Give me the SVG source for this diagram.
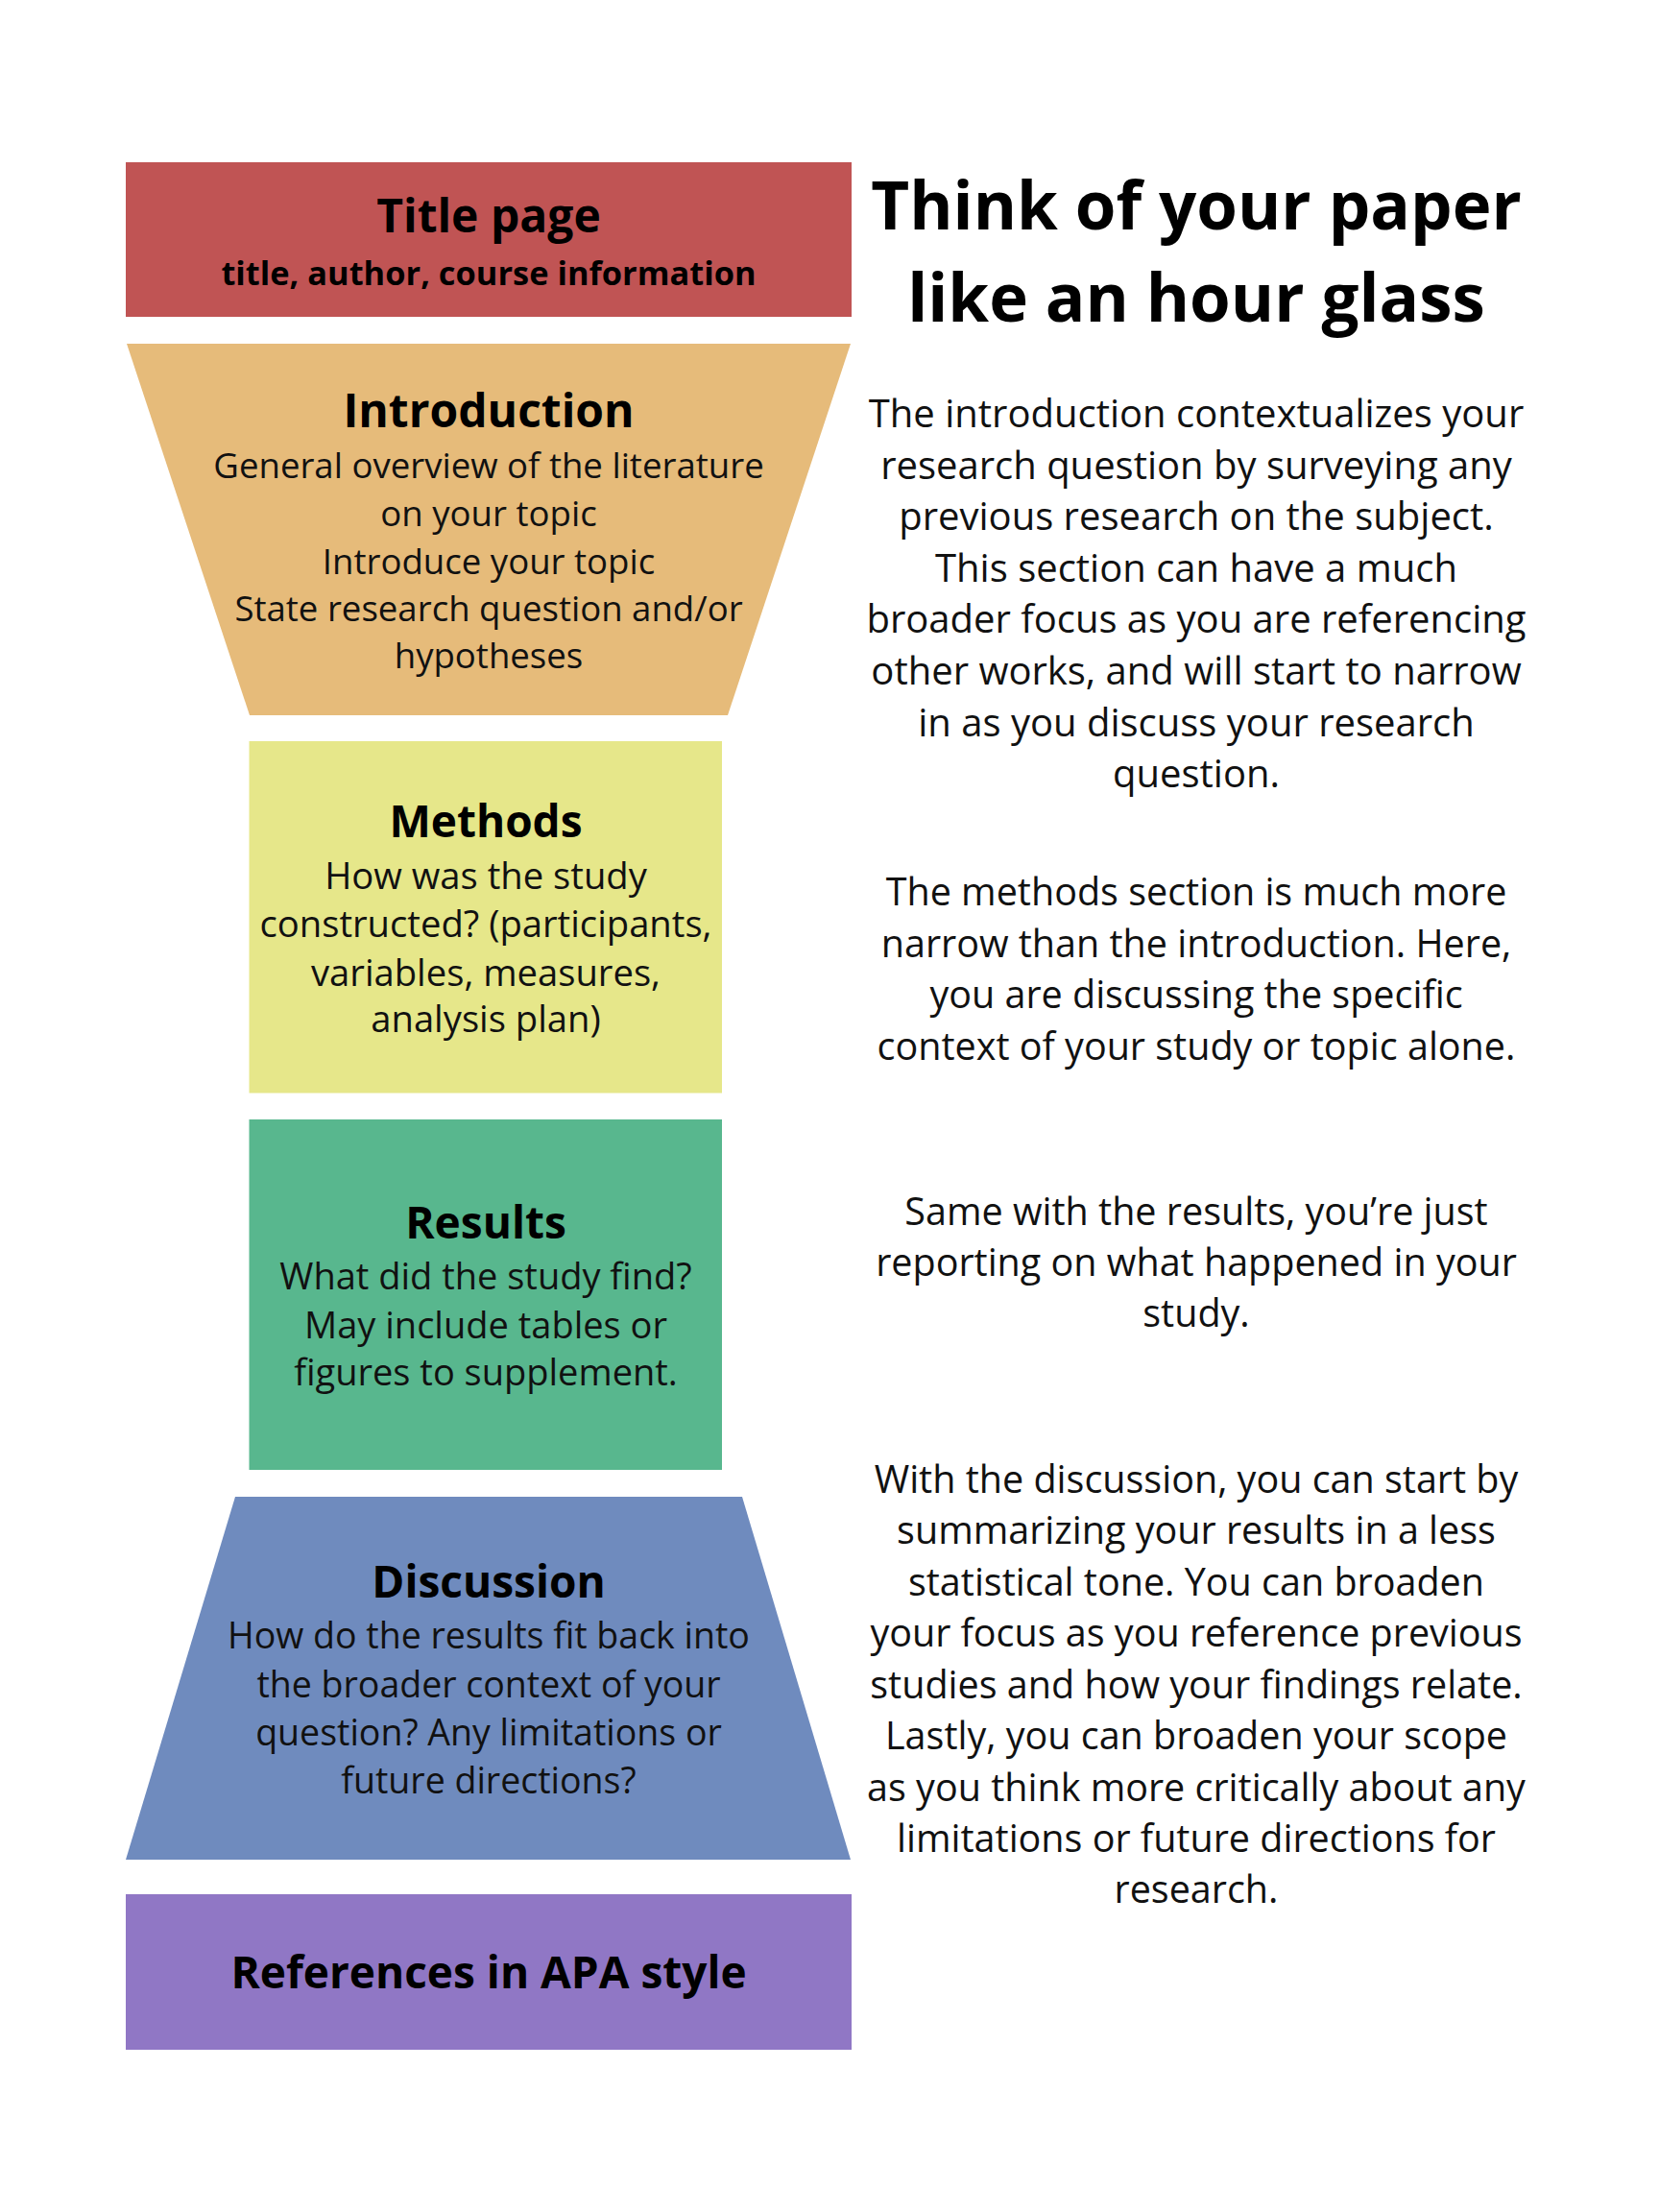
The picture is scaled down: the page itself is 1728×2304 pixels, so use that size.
<svg xmlns="http://www.w3.org/2000/svg" width="1728" height="2304" viewBox="0 0 1728 2304">
<style>
  .h { font-family: "Open Sans", "Liberation Sans", sans-serif; font-weight: 700; fill: #000; text-anchor: middle; }
  .b { font-family: "Open Sans", "Liberation Sans", sans-serif; font-weight: 400; fill: #111; text-anchor: middle; }
</style>
<rect x="0" y="0" width="1728" height="2304" fill="#ffffff"/>
<g id="title-page">
  <rect x="131" y="169" width="756" height="161" fill="#C05454"/>
  <text class="h" x="509" y="242" font-size="48">Title page</text>
  <text class="h" x="509" y="297" font-size="34.4">title, author, course information</text>
</g>
<g id="introduction">
  <polygon points="132,358 886,358 758,745 260,745" fill="#E6BB7A"/>
  <text class="h" x="509" y="445" font-size="48">Introduction</text>
  <text class="b" x="509" y="498" font-size="36.6">General overview of the literature</text>
  <text class="b" x="509" y="548" font-size="36.6">on your topic</text>
  <text class="b" x="509" y="598" font-size="36.6">Introduce your topic</text>
  <text class="b" x="509" y="647" font-size="36.6">State research question and/or</text>
  <text class="b" x="509" y="696" font-size="36.6">hypotheses</text>
</g>
<g id="methods">
  <rect x="259.5" y="772" width="492.5" height="366.5" fill="#E6E78A"/>
  <text class="h" x="506" y="872" font-size="46">Methods</text>
  <text class="b" x="506" y="926" font-size="38.2">How was the study</text>
  <text class="b" x="506" y="976" font-size="38.2">constructed? (participants,</text>
  <text class="b" x="506" y="1027" font-size="38.2">variables, measures,</text>
  <text class="b" x="506" y="1075" font-size="38.2">analysis plan)</text>
</g>
<g id="results">
  <rect x="259.5" y="1166" width="492.5" height="365" fill="#58B78E"/>
  <text class="h" x="506" y="1290" font-size="46">Results</text>
  <text class="b" x="506" y="1343" font-size="38">What did the study find?</text>
  <text class="b" x="506" y="1394" font-size="38">May include tables or</text>
  <text class="b" x="506" y="1443" font-size="38">figures to supplement.</text>
</g>
<g id="discussion">
  <polygon points="245,1559 773,1559 886,1937 131,1937" fill="#6F8BBE"/>
  <text class="h" x="509" y="1664" font-size="46">Discussion</text>
  <text class="b" x="509" y="1717" font-size="37.5">How do the results fit back into</text>
  <text class="b" x="509" y="1768" font-size="37.5">the broader context of your</text>
  <text class="b" x="509" y="1818" font-size="37.5">question? Any limitations or</text>
  <text class="b" x="509" y="1868" font-size="37.5">future directions?</text>
</g>
<g id="references">
  <rect x="131" y="1973" width="756" height="162" fill="#9077C5"/>
  <text class="h" x="509" y="2071" font-size="46">References in APA style</text>
</g>
<g id="heading">
  <text class="h" x="1246" y="239" font-size="69">Think of your paper</text>
  <text class="h" x="1246" y="335" font-size="69">like an hour glass</text>
</g>
<g id="intro-note">
  <text class="b" x="1246" y="445" font-size="40">The introduction contextualizes your</text>
  <text class="b" x="1246" y="498.6" font-size="40">research question by surveying any</text>
  <text class="b" x="1246" y="552.2" font-size="40">previous research on the subject.</text>
  <text class="b" x="1246" y="605.8" font-size="40">This section can have a much</text>
  <text class="b" x="1246" y="659.4" font-size="40">broader focus as you are referencing</text>
  <text class="b" x="1246" y="713" font-size="40">other works, and will start to narrow</text>
  <text class="b" x="1246" y="766.6" font-size="40">in as you discuss your research</text>
  <text class="b" x="1246" y="820.2" font-size="40">question.</text>
</g>
<g id="methods-note">
  <text class="b" x="1246" y="943" font-size="39.5">The methods section is much more</text>
  <text class="b" x="1246" y="997" font-size="39.5">narrow than the introduction. Here,</text>
  <text class="b" x="1246" y="1050" font-size="39.5">you are discussing the specific</text>
  <text class="b" x="1246" y="1104" font-size="39.5">context of your study or topic alone.</text>
</g>
<g id="results-note">
  <text class="b" x="1246" y="1276" font-size="39.5">Same with the results, you’re just</text>
  <text class="b" x="1246" y="1329" font-size="39.5">reporting on what happened in your</text>
  <text class="b" x="1246" y="1382" font-size="39.5">study.</text>
</g>
<g id="discussion-note">
  <text class="b" x="1246" y="1555" font-size="39.5">With the discussion, you can start by</text>
  <text class="b" x="1246" y="1608" font-size="39.5">summarizing your results in a less</text>
  <text class="b" x="1246" y="1662" font-size="39.5">statistical tone. You can broaden</text>
  <text class="b" x="1246" y="1715" font-size="39.5">your focus as you reference previous</text>
  <text class="b" x="1246" y="1769" font-size="39.5">studies and how your findings relate.</text>
  <text class="b" x="1246" y="1822" font-size="39.5">Lastly, you can broaden your scope</text>
  <text class="b" x="1246" y="1876" font-size="39.5">as you think more critically about any</text>
  <text class="b" x="1246" y="1929" font-size="39.5">limitations or future directions for</text>
  <text class="b" x="1246" y="1982" font-size="39.5">research.</text>
</g>
<g id="connectors"></g>
</svg>
